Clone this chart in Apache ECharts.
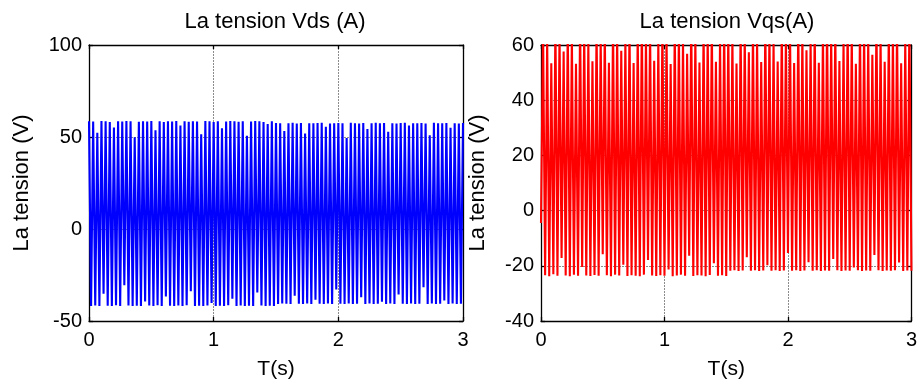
<!DOCTYPE html>
<html>
<head>
<meta charset="utf-8">
<script src="https://cdn.jsdelivr.net/npm/echarts@6/dist/echarts.min.js"></script>
<style>
  html, body { margin: 0; padding: 0; background: #fff; }
  #chart { width: 920px; height: 385px; }
</style>
</head>
<body>
<div id="chart"></div>
<script>
// Tick positions for both panels
const timeTicks = [0, 1, 2, 3];
const vdsTicks = [-50, 0, 50, 100];
const vqsTicks = [-40, -20, 0, 20, 40, 60];

// Panel texts
const vdsTitle = 'La tension Vds (A)';
const vqsTitle = 'La tension Vqs(A)';
const timeLabel = 'T(s)';
const voltLabel = 'La tension (V)';

// Simulation span (s); samples are evenly spaced over it
const tEnd = 3;

// d-axis voltage turning points (V), 0 to 3 s
const vdsValues = [
  58.6,-41.9, 58.4,-41.6, 52.3,-41.8, 58.7,-35.2, 58.5,-41.7, 58.2,-41.9, 55.1,-41.4, 58.6,-41.8, 58.4,-30.6, 58.7,-41.6,
  58.5,-41.9, 49.8,-41.7, 58.3,-41.8, 58.6,-39.4, 58.4,-41.6, 58.7,-41.9, 53.6,-41.5, 58.5,-41.8, 58.2,-36.7, 58.6,-41.7,
  58.4,-41.9, 58.7,-41.6, 56.2,-41.8, 58.5,-41.4, 58.3,-33.8, 58.6,-41.9, 58.4,-41.7, 51.5,-41.8, 58.7,-41.6, 58.5,-40.2,
  58.2,-41.9, 58.6,-41.7, 54.8,-41.8, 58.4,-41.5, 58.7,-37.9, 58.5,-41.8, 58.3,-41.6, 58.6,-41.9, 50.7,-41.7, 58.4,-41.8,
  58.7,-34.5, 58.5,-41.6, 58.2,-41.9, 57.1,-41.7, 58.6,-41.8,
  57.6,-40.7, 57.4,-40.5, 53.2,-40.6, 57.5,-40.8, 57.7,-36.3, 57.3,-40.6, 57.6,-40.7, 51.9,-40.5, 57.5,-40.8, 57.4,-38.4,
  57.6,-40.6, 57.7,-40.7, 55.6,-40.5, 57.3,-40.8, 57.5,-32.9, 57.6,-40.6, 57.4,-40.7, 49.5,-40.5, 57.7,-40.8, 57.5,-40.6,
  57.3,-37.1, 57.6,-40.7, 54.4,-40.5, 57.5,-40.8, 57.7,-40.6, 57.4,-39.5, 57.6,-40.7, 52.8,-40.5, 57.5,-40.8, 57.3,-35.6,
  57.6,-40.6, 57.7,-40.7, 56.3,-40.5, 57.4,-40.8, 57.5,-40.6, 57.6,-31.7, 57.3,-40.7, 50.9,-40.5, 57.7,-40.8, 57.5,-40.6,
  57.4,-38.9, 57.6,-40.7, 55.0,-40.5, 57.5,-40.8, 57.3,-40.6, 57.6
];

// q-axis voltage turning points (V), 0 to 3 s; peaks run past the 60 V limit
const vqsValues = [
  -4.5,
  66,-23.4, 62,-23.8, 53.4,-23.1, 68,-23.6, 64,-17.2, 57.6,-23.5, 67,-23.8, 63,-23.2, 53.2,-23.6, 69,-20.4,
  65,-23.5, 61,-23.7, 54.1,-23.3, 67,-23.6, 63,-15.8, 66,-23.4, 53.6,-23.8, 68,-23.2, 64,-23.5, 57.9,-19.6,
  62,-23.7, 67,-23.4, 53.5,-23.6, 65,-23.8, 69,-23.2, 63,-17.9, 66,-23.5, 54.3,-23.7, 61,-23.4, 68,-23.6,
  64,-21.3, 53.1,-23.8, 67,-23.5, 65,-23.2, 62,-23.6, 56.8,-16.4, 69,-23.7, 63,-23.4, 53.7,-23.5, 66,-23.8,
  64,-23.3, 67,-19.1, 53.9,-23.6, 62,-23.4, 68,-23.7,
  65,-21.8, 63,-21.6, 53.3,-21.9, 67,-21.7, 64,-16.9, 57.4,-21.8, 66,-21.6, 62,-21.9, 53.8,-21.7, 68,-19.8,
  65,-21.8, 61,-21.6, 54.0,-21.9, 67,-21.7, 63,-15.4, 66,-21.8, 53.5,-21.6, 68,-21.9, 64,-21.7, 58.1,-18.7,
  62,-21.8, 67,-21.6, 53.6,-21.9, 65,-21.7, 69,-21.8, 63,-17.5, 66,-21.6, 54.2,-21.9, 61,-21.7, 68,-21.8,
  64,-20.6, 53.2,-21.6, 67,-21.9, 65,-21.7, 62,-21.8, 56.5,-16.1, 69,-21.6, 63,-21.9, 53.9,-21.7, 66,-21.8,
  64,-21.6, 67,-18.8, 53.4,-21.9, 62,-21.7, 68,-21.8
];

const FONT = "'Liberation Sans', Arial, sans-serif";

// pair each value with its sample time
function withTime(values) {
  const step = tEnd / (values.length - 1);
  return values.map((v, i) => [i * step, v]);
}

const gridLine = { show: true, lineStyle: { color: '#8c8c8c', width: 1, type: [2, 1] } };
const boxLine = { show: true, onZero: false, lineStyle: { color: '#000', width: 1.3 } };
const innerTick = { show: true, inside: true, length: 4, lineStyle: { color: '#000', width: 1.3 } };
const tickText = { color: '#000', fontSize: 20, fontFamily: FONT };

function xAxes(gridIndex) {
  const base = {
    type: 'value', gridIndex, min: timeTicks[0], max: timeTicks[timeTicks.length - 1],
    interval: timeTicks[1] - timeTicks[0], axisLine: boxLine, axisTick: innerTick
  };
  return [
    Object.assign({}, base, {
      position: 'bottom', splitLine: gridLine,
      axisLabel: Object.assign({ margin: 9 }, tickText),
      name: timeLabel, nameLocation: 'middle', nameGap: 38,
      nameTextStyle: { color: '#000', fontSize: 21, fontFamily: FONT }
    }),
    Object.assign({}, base, { position: 'top', splitLine: { show: false }, axisLabel: { show: false } })
  ];
}

function yAxes(gridIndex, ticks, nameGap) {
  const base = {
    type: 'value', gridIndex, min: ticks[0], max: ticks[ticks.length - 1],
    interval: ticks[1] - ticks[0], axisLine: boxLine, axisTick: innerTick
  };
  return [
    Object.assign({}, base, {
      position: 'left', splitLine: gridLine,
      axisLabel: Object.assign({ margin: 7 }, tickText),
      name: voltLabel, nameLocation: 'middle', nameGap, nameRotate: 90,
      nameTextStyle: { color: '#000', fontSize: 22, fontFamily: FONT }
    }),
    Object.assign({}, base, { position: 'right', splitLine: { show: false }, axisLabel: { show: false } })
  ];
}

const chart = echarts.init(document.getElementById('chart'), null, { renderer: 'canvas' });

chart.setOption({
  animation: false,
  backgroundColor: '#fff',
  grid: [
    { left: 89, right: 457, top: 45, bottom: 62 },
    { left: 541, right: 5, top: 45, bottom: 62 }
  ],
  graphic: [
    { type: 'text', x: 275, y: 22, style: { text: vdsTitle, align: 'center', verticalAlign: 'middle', font: '22px ' + FONT, fill: '#000' } },
    { type: 'text', x: 727, y: 22, style: { text: vqsTitle, align: 'center', verticalAlign: 'middle', font: '22px ' + FONT, fill: '#000' } }
  ],
  xAxis: [...xAxes(0), ...xAxes(1)],
  yAxis: [...yAxes(0, vdsTicks, 56), ...yAxes(1, vqsTicks, 52)],
  series: [
    {
      type: 'line', xAxisIndex: 0, yAxisIndex: 0, data: withTime(vdsValues),
      showSymbol: false, symbol: 'none', sampling: null, clip: true,
      lineStyle: { color: '#0000ff', width: 2.1 }
    },
    {
      type: 'line', xAxisIndex: 2, yAxisIndex: 2, data: withTime(vqsValues),
      showSymbol: false, symbol: 'none', sampling: null, clip: true,
      lineStyle: { color: '#ff0000', width: 2.1 }
    }
  ]
});
</script>
</body>
</html>
